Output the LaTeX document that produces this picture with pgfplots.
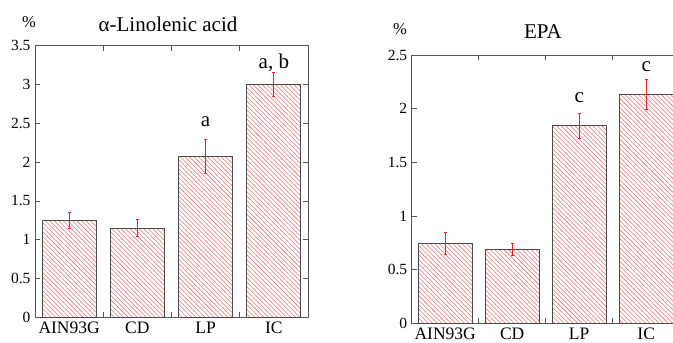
\documentclass[border=0pt]{standalone}
\usepackage{pgfplots}
\pgfplotsset{compat=1.18}
\usepackage{fontspec}
\setmainfont{Liberation Serif}
\usetikzlibrary{patterns.meta}
\definecolor{hatchred}{HTML}{F07070}
\definecolor{errred}{HTML}{F02020}
\definecolor{axgray}{HTML}{555555}
\tikzset{lab/.style={font=\fontsize{21}{22}\selectfont}}
\pgfplotsset{
  barchart/.style={
    scale only axis,
    anchor=south west,
    ybar, bar width=54pt,
    xmin=-0.5, xmax=3.5,
    xtick={0,1,2,3},
    xticklabels={AIN93G,CD,LP,IC},
    minor xtick={0.5,1.5,2.5},
    major x tick style={draw=none},
    tick align=inside,
    major tick length=5pt,
    minor tick length=5pt,
    tick style={axgray, line width=0.7pt},
    axis line style={axgray, line width=0.9pt},
    /pgf/number format/assume math mode=true,
    yticklabel style={font=\fontsize{15.5}{16}\selectfont, xshift=-1pt},
    xticklabel style={font=\fontsize{17.5}{18}\selectfont, yshift=-1pt},
  },
  mybar/.style={draw=black!70, line width=0.8pt,
    pattern={Lines[angle=-45,distance=3.2pt,line width=0.55pt]},
    pattern color=hatchred,
    error bars/.cd,
      y dir=both, y explicit,
      error bar style={draw=errred, color=errred, line width=1pt},
      error mark options={draw=errred, color=errred, rotate=90, mark size=1.6pt, line width=0.8pt},
  },
}
\begin{document}
\begin{tikzpicture}[x=1pt,y=1pt]
\path[use as bounding box] (0pt,0pt) rectangle (673pt,343pt);
\clip (0pt,0pt) rectangle (673pt,343pt);
% Left panel
\begin{axis}[barchart,
  at={(35pt,25.7pt)}, width=273pt, height=271.6pt,
  ymin=0, ymax=3.5, ytick={0,0.5,1,1.5,2,2.5,3,3.5}]
\addplot[mybar] coordinates {
  (0,1.25) +- (0,0.10)
  (1,1.15) +- (0,0.11)
  (2,2.07) +- (0,0.22)
  (3,3.00) +- (0,0.15)
};
\node[lab] at (axis cs:2,2.52) {a};
\node[lab] at (axis cs:3,3.28) {a, b};
\end{axis}
% Right panel
\begin{axis}[barchart,
  at={(411.7pt,19.7pt)}, width=268pt, height=268.3pt,
  ymin=0, ymax=2.5, ytick={0,0.5,1,1.5,2,2.5}]
\addplot[mybar] coordinates {
  (0,0.745) +- (0,0.10)
  (1,0.69) +- (0,0.055)
  (2,1.84) +- (0,0.115)
  (3,2.137) +- (0,0.14)
};
\node[lab] at (axis cs:2,2.10) {c};
\node[lab] at (axis cs:3,2.39) {c};
\end{axis}
% Titles and unit labels
\node[font=\fontsize{21}{22}\selectfont] at (168pt,319pt) {α-Linolenic acid};
\node[font=\fontsize{16.5}{17}\selectfont] at (29pt,321pt) {\%};
\node[font=\fontsize{21}{22}\selectfont] at (543pt,311pt) {EPA};
\node[font=\fontsize{16.5}{17}\selectfont] at (400pt,314pt) {\%};
\end{tikzpicture}
\end{document}
